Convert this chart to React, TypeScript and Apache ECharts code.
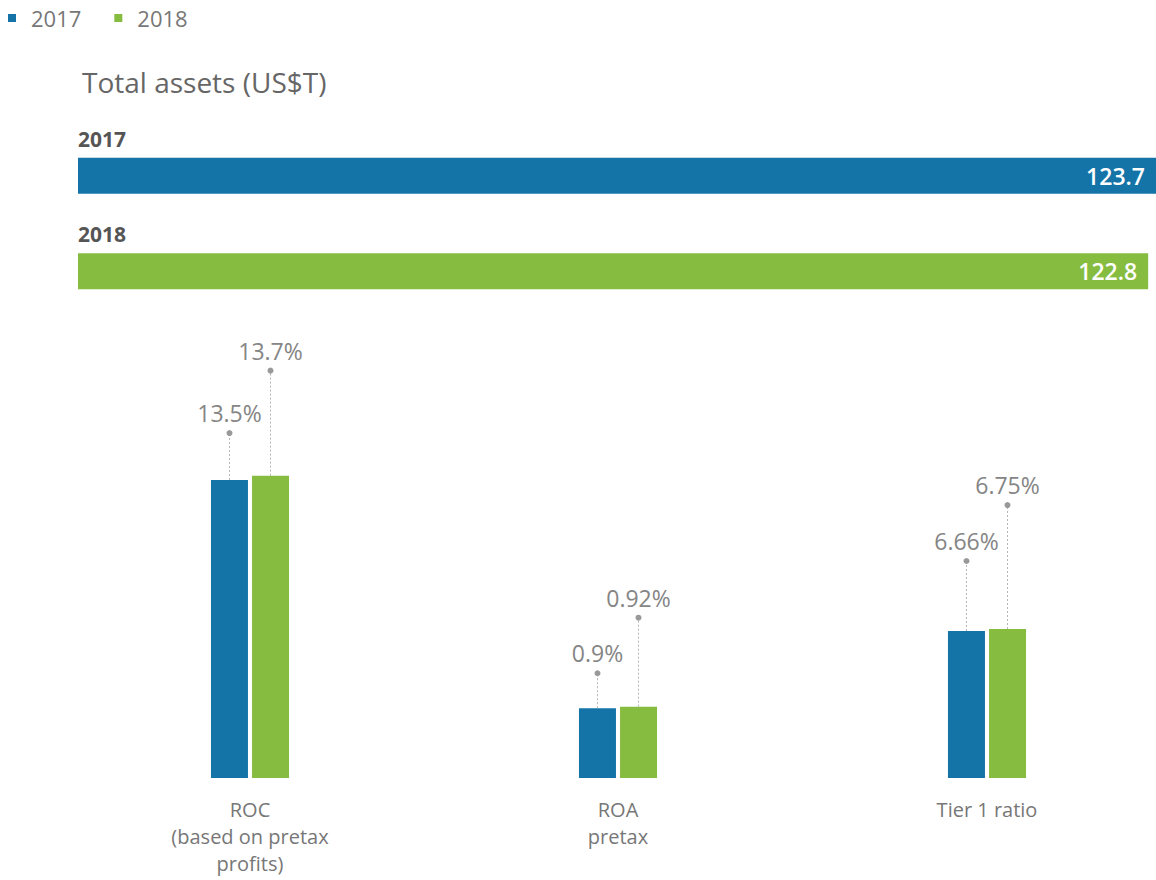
import React, { useEffect, useRef } from "react";
import * as echarts from "echarts";

const years = ["2017", "2018"];
const totalAssets = [123.7, 122.8];
const metrics = ["ROC\n(based on pretax\nprofits)", "ROA\npretax", "Tier 1 ratio"];
const values2017 = [13.5, 0.9, 6.66];
const values2018 = [13.7, 0.92, 6.75];

// styling / layout (not data)
const BLUE = "#1474a8";
const GREEN = "#86bc40";
const FONT = '"Open Sans", "Noto Sans", sans-serif';
const axisMax = [20.3, 5.78, 20.3];
const groupCenters = [250, 618, 987];
const leaderLen2017 = [47, 35, 70];
const leaderLen2018 = [105, 89, 124];

export default function App() {
  const ref = useRef<HTMLDivElement>(null);
  useEffect(() => {
    if (!ref.current) return;
    const chart = echarts.init(ref.current, null, { renderer: "svg" });

    const grids: any[] = [{ left: 78, right: 0, top: 128, height: 191 }];
    const xAxes: any[] = [{ gridIndex: 0, type: "value", min: 0, max: totalAssets[0], show: false }];
    const yAxes: any[] = [
      {
        gridIndex: 0,
        type: "category",
        data: years,
        inverse: true,
        show: false,
      },
    ];
    const series: any[] = [
      {
        type: "bar",
        name: "Total assets",
        xAxisIndex: 0,
        yAxisIndex: 0,
        barWidth: 36,
        data: totalAssets.map((v, i) => ({ value: v, itemStyle: { color: i === 0 ? BLUE : GREEN } })),
        label: {
          show: true,
          position: "insideRight",
          distance: 11,
          color: "#fff",
          fontFamily: FONT,
          fontSize: 23,
          fontWeight: 600,
          formatter: "{c}",
        },
      },
      {
        type: "custom",
        name: "year-labels",
        xAxisIndex: 0,
        yAxisIndex: 0,
        data: years.map((_, i) => [0, i]),
        renderItem: (params: any, api: any) => {
          const p = api.coord([api.value(0), api.value(1)]);
          return {
            type: "text",
            x: p[0],
            y: p[1] - 37,
            style: {
              text: years[params.dataIndex],
              fill: "#555",
              fontSize: 21,
              fontWeight: "bold",
              fontFamily: FONT,
              align: "left",
              verticalAlign: "middle",
            },
          };
        },
      },
    ];

    const makeLeader = (gi: number, dx: number, lens: number[], vals: number[], name: string) => ({
      type: "custom",
      name: name + "-leader",
      xAxisIndex: gi + 1,
      yAxisIndex: gi + 1,
      data: [[0, vals[gi]]],
      z: 5,
      renderItem: (params: any, api: any) => {
        const v = api.value(1);
        const p = api.coord([api.value(0), v]);
        const x = p[0] + dx;
        const top = p[1];
        const dotY = top - lens[gi];
        return {
          type: "group",
          children: [
            {
              type: "line",
              shape: { x1: x, y1: top, x2: x, y2: dotY },
              style: { stroke: "#b5b5b5", lineWidth: 1, lineDash: [2, 2] },
            },
            { type: "circle", shape: { cx: x, cy: dotY, r: 3 }, style: { fill: "#999" } },
            {
              type: "text",
              x: x,
              y: dotY - 20,
              style: {
                text: v + "%",
                fill: "#858585",
                fontSize: 23,
                fontFamily: FONT,
                align: "center",
                verticalAlign: "middle",
              },
            },
          ],
        };
      },
    });

    metrics.forEach((m, gi) => {
      grids.push({ left: groupCenters[gi] - 100, width: 200, top: 330, bottom: 102 });
      xAxes.push({
        gridIndex: gi + 1,
        type: "category",
        data: [m],
        axisLine: { show: false },
        axisTick: { show: false },
        axisLabel: {
          margin: 18,
          fontFamily: FONT,
          fontSize: 20,
          lineHeight: 27,
          color: "#777",
          interval: 0,
        },
      });
      yAxes.push({ gridIndex: gi + 1, type: "value", min: 0, max: axisMax[gi], show: false });
      series.push({
        type: "bar",
        name: "2017",
        xAxisIndex: gi + 1,
        yAxisIndex: gi + 1,
        barWidth: 37,
        barGap: "11%",
        itemStyle: { color: BLUE },
        data: [values2017[gi]],
      });
      series.push({
        type: "bar",
        name: "2018",
        xAxisIndex: gi + 1,
        yAxisIndex: gi + 1,
        barWidth: 37,
        barGap: "11%",
        itemStyle: { color: GREEN },
        data: [values2018[gi]],
      });
      series.push(makeLeader(gi, -20.5, leaderLen2017, values2017, "2017"));
      series.push(makeLeader(gi, 20.5, leaderLen2018, values2018, "2018"));
    });

    chart.setOption({
      animation: false,
      legend: {
        data: years,
        left: 3,
        top: 2,
        icon: "rect",
        itemWidth: 8,
        itemHeight: 8,
        itemGap: 33,
        selectedMode: false,
        textStyle: { fontFamily: FONT, fontSize: 22, color: "#777", padding: [0, 0, 0, 10] },
      },
      title: {
        text: "Total assets (US$T)",
        left: 77,
        top: 63,
        textStyle: { fontFamily: FONT, fontSize: 28, fontWeight: "normal", color: "#666" },
      },
      grid: grids,
      xAxis: xAxes,
      yAxis: yAxes,
      series,
    });
    return () => chart.dispose();
  }, []);
  return (
    <div
      ref={ref}
      style={{ position: "fixed", left: 0, top: 0, width: 1156, height: 880, background: "#fff" }}
    />
  );
}
